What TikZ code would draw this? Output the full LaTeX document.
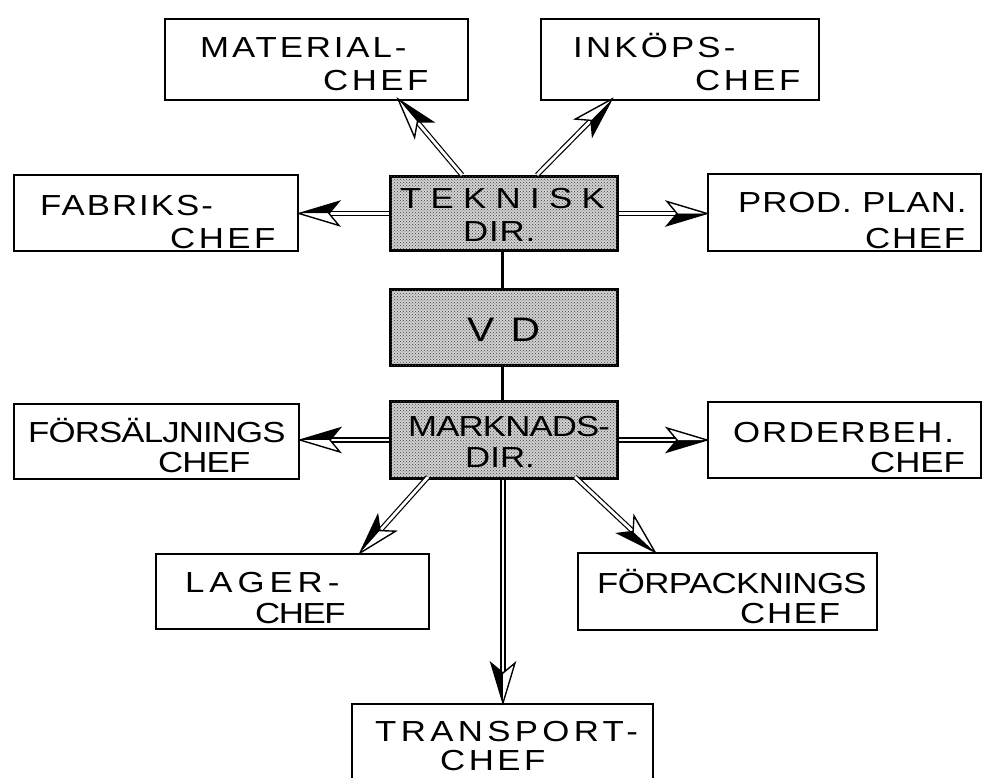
\documentclass[tikz,border=0pt]{standalone}
\usepackage{fontspec}
\setmainfont[FakeStretch=1.2]{Liberation Sans}
\usetikzlibrary{calc,patterns,decorations.markings}

% letter-spaced line of hand lettering
\newcommand\hl[2]{{\addfontfeature{LetterSpace=#1}#2}}

\begin{document}
\begin{tikzpicture}[x=1pt,y=-1pt,
  box/.style={draw=black, line width=2pt, fill=white, rectangle, inner sep=0pt, anchor=north west},
  dirbox/.style={draw=black, line width=3pt, fill=black!18, rectangle, inner sep=0pt, anchor=north west,
    postaction={pattern=crosshatch dots, pattern color=black!75}},
  lbl/.style={anchor=base west, inner sep=0pt, font=\fontsize{29}{31}\selectfont},
  big/.style={anchor=base west, inner sep=0pt, font=\fontsize{34}{36}\selectfont},
  shaft/.style={draw=black, line width=1.2pt, double=white, double distance=2.8pt},
  link/.style={draw=black, line width=3pt},
  headtip/.style={postaction={decorate, decoration={markings, mark=at position 1 with {
      \fill[black] (0,0) -- (-40,12) -- (-30,0) -- cycle;
      \fill[white] (0,0) -- (-40,-12) -- (-30,0) -- cycle;
      \draw[black, line width=1.4pt, line join=miter]
        (0,0) -- (-40,12) -- (-30,0) -- (-40,-12) -- cycle;
  }}}},
]
\useasboundingbox (0,0) rectangle (985,778);
\clip (0,0) rectangle (985,778);
\fill[white] (0,0) rectangle (985,778);

% ---- boxes ----
\node[box, minimum width=303pt, minimum height=81pt] (mat) at (164,18) {};
\node[box, minimum width=278pt, minimum height=81pt] (ink) at (540,18) {};
\node[box, minimum width=284pt, minimum height=76pt] (fab) at (13,174) {};
\node[dirbox, minimum width=227pt, minimum height=74pt] (tek) at (389,175) {};
\node[box, minimum width=273pt, minimum height=77pt] (prod) at (707,173) {};
\node[dirbox, minimum width=227pt, minimum height=76pt] (vd) at (389,288) {};
\node[dirbox, minimum width=227pt, minimum height=77pt] (mar) at (389,400) {};
\node[box, minimum width=285pt, minimum height=75pt] (fors) at (13,403) {};
\node[box, minimum width=273pt, minimum height=76pt] (ord) at (707,401) {};
\node[box, minimum width=273pt, minimum height=75pt] (lag) at (155,553) {};
\node[box, minimum width=299pt, minimum height=77pt] (forp) at (577,552) {};
\node[box, minimum width=301pt, minimum height=100pt] (tra) at (351,703) {};

% ---- labels ----
\node[lbl] (matA) at (200,58) {\hl{10}{MATERIAL-}};
\node[lbl] (matB) at (323,91) {\hl{12}{CHEF}};
\node[lbl] (inkA) at (573,58) {\hl{11}{INKÖPS-}};
\node[lbl] (inkB) at (695,91) {\hl{12}{CHEF}};
\node[lbl] (fabA) at (40,216) {\hl{7}{FABRIKS-}};
\node[lbl] (fabB) at (170,248) {\hl{12}{CHEF}};
\node[lbl] (tekA) at (400,209) {\hl{32}{TEKNISK}};
\node[lbl] (tekB) at (463,241) {\hl{3}{DIR.}};
\node[lbl] (prodA) at (738,213) {\hl{3}{PROD. PLAN.}};
\node[lbl] (prodB) at (865,248) {\hl{6}{CHEF}};
\node[big] (vdA) at (467,341) {\hl{48}{VD}};
\node[lbl] (marA) at (408,436) {\hl{-3}{MARKNADS-}};
\node[lbl] (marB) at (465,467) {\hl{0}{DIR.}};
\node[lbl] (forsA) at (28,442) {\hl{-3}{FÖRSÄLJNINGS}};
\node[lbl] (forsB) at (158,472) {\hl{-3}{CHEF}};
\node[lbl] (ordA) at (733,442) {\hl{6}{ORDERBEH.}};
\node[lbl] (ordB) at (870,472) {\hl{0}{CHEF}};
\node[lbl] (lagA) at (185,592) {\hl{17}{LAGER-}};
\node[lbl] (lagB) at (255,623) {\hl{-5}{CHEF}};
\node[lbl] (forpA) at (597,593) {\hl{-2}{FÖRPACKNINGS}};
\node[lbl] (forpB) at (740,623) {\hl{6}{CHEF}};
\node[lbl] (traA) at (375,741) {\hl{15}{TRANSPORT-}};
\node[lbl] (traB) at (440,770) {\hl{12}{CHEF}};

% ---- connector end points on the box edges ----
\coordinate (t1) at (462,175);  \coordinate (m1) at (398,99);
\coordinate (t2) at (537,175);  \coordinate (i1) at (612,99);
\coordinate (m2) at (428,477);  \coordinate (l1) at (360,553);
\coordinate (m3) at (575,477);  \coordinate (p1) at (655,552);

% ---- plain links through VD ----
\draw[link] (tek.south -| 502,0) -- (vd.north -| 502,0);
\draw[link] (vd.south -| 502,0) -- (mar.north -| 502,0);

% ---- arrows ----
\newcommand\hdarrow[2]{%
  \draw[shaft] (#1) -- ($(#2)!24pt!(#1)$);
  \path[headtip] (#1) -- (#2);
}
\hdarrow{t1}{m1}
\hdarrow{t2}{i1}
\hdarrow{tek.west}{fab.east |- tek.west}
\hdarrow{tek.east}{prod.west |- tek.east}
\hdarrow{mar.west}{fors.east |- mar.west}
\hdarrow{mar.east}{ord.west |- mar.east}
\hdarrow{m2}{l1}
\hdarrow{m3}{p1}
\hdarrow{mar.south -| 503,0}{tra.north -| 503,0}
\end{tikzpicture}
\end{document}
